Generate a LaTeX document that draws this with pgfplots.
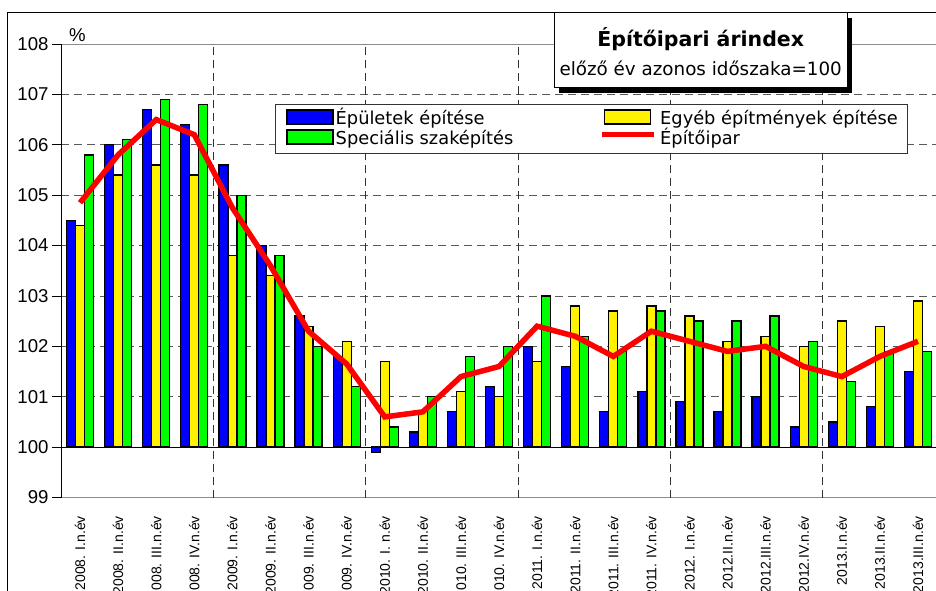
\documentclass[border=0pt]{standalone}
\usepackage{pgfplots}
\pgfplotsset{compat=1.18}
\usepackage{pgfplotstable}
\usepackage{fontspec}
\setmainfont{Liberation Sans}
\newfontfamily\tah{DejaVu Sans}

\pgfplotstableread{
i b y g r
0 104.5 104.4 105.8 104.85
1 106.0 105.4 106.1 105.8
2 106.7 105.6 106.9 106.5
3 106.4 105.4 106.8 106.2
4 105.6 103.8 105.0 104.75
5 104.0 103.4 103.8 103.6
6 102.6 102.4 102.0 102.3
7 101.8 102.1 101.2 101.65
8 99.9 101.7 100.4 100.6
9 100.3 100.7 101.0 100.7
10 100.7 101.1 101.8 101.4
11 101.2 101.0 102.0 101.6
12 102.0 101.7 103.0 102.4
13 101.6 102.8 102.2 102.2
14 100.7 102.7 101.9 101.8
15 101.1 102.8 102.7 102.3
16 100.9 102.6 102.5 102.1
17 100.7 102.1 102.5 101.9
18 101.0 102.2 102.6 102.0
19 100.4 102.0 102.1 101.6
20 100.5 102.5 101.3 101.4
21 100.8 102.4 101.9 101.8
22 101.5 102.9 101.9 102.1
}\data

\begin{document}
\begin{tikzpicture}[x=1pt,y=1pt]
\useasboundingbox (0,0) rectangle (936,590);
\begin{axis}[
  at={(61pt,92.5pt)}, anchor=south west,
  scale only axis, width=876pt, height=453.5pt,
  xmin=-0.5, xmax=22.5, ymin=-1, ymax=8,
  ybar=0pt, bar width=9pt,
  ytick={-1,0,1,2,3,4,5,6,7,8},
  yticklabels={99,100,101,102,103,104,105,106,107,108},
  xtick={0,...,22},
  xticklabels={2008. I.n.év,2008. II.n.év,2008. III.n.év,2008. IV.n.év,
    2009. I.n.év,2009. II.n.év,2009. III.n.év,2009. IV.n.év,
    2010. I. n.év,2010. II.n.év,2010. III.n.év,2010. IV.n.év,
    2011. I.n.év,2011. II.n.év,2011. III.n.év,2011. IV.n.év,
    2012. I.n.év,2012.II.n.év,2012.III.n.év,2012.IV.n.év,
    2013.I.n.év,2013.II.n.év,2013.III.n.év},
  x tick label style={rotate=90, anchor=east, font=\fontsize{14}{14}\selectfont},
  xticklabel shift=6pt,
  major x tick style={draw=none},
  y tick label style={font=\fontsize{18.6}{20}\selectfont},
  ytick pos=left, tick align=outside, major tick length=9pt,
  major y tick style={black, line width=0.9pt},
  ymajorgrids,
  major grid style={dash pattern=on 8pt off 5pt, black!65, line width=0.9pt},
  extra x ticks={3.5,7.5,11.5,15.5,19.5},
  extra x tick labels={},
  extra x tick style={xmajorgrids=true, major x tick style={draw=none},
    major grid style={dash pattern=on 8pt off 5pt, black!80, line width=0.9pt}},
  axis line style={black!45, line width=1pt},
  legend columns=2,
  legend cell align=left,
  legend style={at={(0.2443,0.8677)}, anchor=north west,
    draw=black!80, line width=0.8pt, fill=white,
    font=\tah\fontsize{17.8}{20}\selectfont,
    inner xsep=3pt, inner ysep=4.5pt, column sep=0pt, row sep=0pt,
    nodes={inner sep=0pt, text height=15.5pt, text depth=4.5pt}},
]
\addplot[fill=blue, draw=black, line width=1.3pt, bar shift=-9pt,
  legend image code/.code={\path (-8pt,0pt); \draw[fill=blue, draw=black, line width=1.3pt] (0pt,-5pt) rectangle (46pt,9pt);}]
  table[x=i, y expr=\thisrow{b}-100] {\data};
\addlegendentry{\makebox[260pt][l]{\hspace{2pt}Épületek építése}}
\addplot[fill=yellow, draw=black, line width=1.3pt, bar shift=0pt,
  legend image code/.code={\path (-8pt,0pt); \draw[fill=yellow, draw=black, line width=1.3pt] (0pt,-5pt) rectangle (46pt,9pt);}]
  table[x=i, y expr=\thisrow{y}-100] {\data};
\addlegendentry{\makebox[247pt][l]{\hspace{3pt}Egyéb építmények építése}}
\addplot[fill=green, draw=black, line width=1.3pt, bar shift=9pt,
  legend image code/.code={\path (-8pt,0pt); \draw[fill=green, draw=black, line width=1.3pt] (0pt,-5pt) rectangle (46pt,9pt);}]
  table[x=i, y expr=\thisrow{g}-100] {\data};
\addlegendentry{\makebox[260pt][l]{\hspace{2pt}Speciális szaképítés}}
\addplot[sharp plot, red, line width=5.5pt, mark=none,
  legend image code/.code={\path (-8pt,0pt); \draw[red, line width=5.5pt] (-2pt,4.3pt) -- (50pt,4.3pt);}]
  table[x=i, y expr=\thisrow{r}-100] {\data};
\addlegendentry{\makebox[247pt][l]{\hspace{3pt}Építőipar}}
\draw[black, line width=1.2pt] (axis cs:-0.5,0) -- (axis cs:22.5,0);
\draw[black, line width=1.2pt] (rel axis cs:0,0) -- (rel axis cs:0,1);
\end{axis}
% outer chart border
\draw[black, line width=1pt] (7,-5) -- (7,577.3) -- (945,577.3);
% percent sign
\node[anchor=base west, inner sep=0pt, font=\fontsize{18.6}{20}\selectfont] at (69,548.5) {\%};
% title box
\fill[black] (559.3,497) rectangle (852,572.3);
\draw[fill=white, draw=black, line width=1pt] (554.3,502) rectangle (847,577.3);
\node[anchor=base, inner sep=0pt, font=\tah\bfseries\fontsize{20.5}{22}\selectfont] at (700.7,543.3) {Építőipari árindex};
\node[anchor=base, inner sep=0pt, font=\tah\fontsize{18.3}{20}\selectfont] at (700.7,514) {előző év azonos időszaka=100};
\end{tikzpicture}
\end{document}
